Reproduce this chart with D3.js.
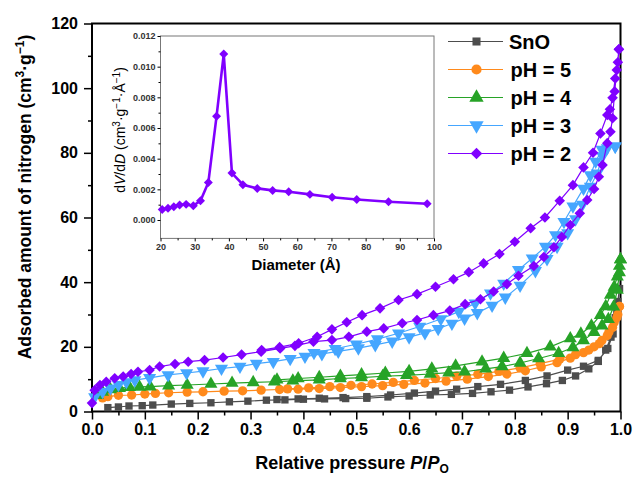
<!DOCTYPE html>
<html>
<head>
<meta charset="utf-8">
<script src="https://cdn.jsdelivr.net/npm/d3@7"></script>
<style>
  body { margin: 0; background: #fff; }
  text { font-family: "Liberation Sans", Arial, sans-serif; }
</style>
</head>
<body>
<svg id="chart" width="634" height="480"></svg>
<script>
// isotherms: [P/P0, volume] pairs, adsorption branch then desorption branch
const snoAds = [[0.03,1.2],[0.05,1.4],[0.07,1.7],[0.095,1.8],[0.115,2.0],[0.15,2.3],[0.185,2.5],[0.225,2.7],[0.26,3.0],[0.295,3.2],[0.33,3.5],[0.365,3.6],[0.40,3.8],[0.44,3.9],[0.48,4.0],[0.52,4.1],[0.56,4.5],[0.60,4.8],[0.64,5.1],[0.68,5.3],[0.72,5.6],[0.755,6.1],[0.79,6.6],[0.825,7.6],[0.86,8.6],[0.89,9.6],[0.915,11],[0.94,13.2],[0.958,15.5],[0.972,19],[0.982,23],[0.99,29],[0.995,34],[0.998,38]];
const snoDes = [[0.998,38],[0.993,31],[0.986,24],[0.976,19.5],[0.958,15.8],[0.93,14],[0.90,12.8],[0.861,11],[0.82,9.6],[0.773,8.4],[0.73,7.7],[0.69,6.9],[0.65,6.3],[0.61,5.7],[0.565,5.1],[0.52,4.6],[0.475,4.3],[0.43,4.1],[0.39,3.9],[0.35,3.7]];

const ph5Ads = [[0.02,4.2],[0.03,4.6],[0.05,5.0],[0.075,5.1],[0.1,5.4],[0.12,5.6],[0.145,5.8],[0.18,6.0],[0.21,6.1],[0.25,6.3],[0.285,6.4],[0.32,6.6],[0.355,6.8],[0.39,6.9],[0.43,7.1],[0.47,7.4],[0.51,7.7],[0.55,8.0],[0.59,8.4],[0.63,8.8],[0.67,9.4],[0.71,10.0],[0.75,10.8],[0.785,11.6],[0.82,12.6],[0.85,13.8],[0.88,15.1],[0.905,16.5],[0.93,18.2],[0.95,20],[0.965,22],[0.978,24.5],[0.988,27.5],[0.995,30],[0.998,32.5]];
const ph5Des = [[0.998,32.5],[0.993,29],[0.985,26],[0.975,23.5],[0.96,21],[0.94,19],[0.915,17.6],[0.885,16.2],[0.848,14.8],[0.81,13.5],[0.77,12.4],[0.73,11.5],[0.69,10.9],[0.65,10.2],[0.61,9.6],[0.57,9.0],[0.53,8.5],[0.49,8.1],[0.45,7.7],[0.41,7.3],[0.37,7.0]];

const ph4Ads = [[0.01,5.0],[0.02,6.0],[0.035,6.8],[0.052,7.2],[0.071,7.5],[0.09,7.6],[0.11,7.7],[0.145,8.0],[0.18,8.2],[0.225,8.5],[0.265,8.8],[0.305,9.0],[0.345,9.2],[0.38,9.5],[0.43,9.8],[0.47,10.2],[0.51,10.5],[0.55,10.9],[0.595,11.2],[0.64,11.6],[0.675,12.0],[0.705,12.3],[0.745,13.2],[0.776,13.9],[0.81,15.0],[0.845,16.4],[0.883,18.0],[0.91,19.8],[0.93,22],[0.95,24.5],[0.965,26.5],[0.977,28.5],[0.987,32.4],[0.994,37.6],[0.998,43],[1.0,47]];
const ph4Des = [[1.0,47],[0.998,45],[0.994,41.7],[0.988,38.5],[0.981,36],[0.972,32.5],[0.962,29.8],[0.945,26.5],[0.925,24],[0.905,22.6],[0.867,20],[0.823,18],[0.779,16.5],[0.738,15.4],[0.688,14.1],[0.643,13.2],[0.60,12.4],[0.555,11.9],[0.51,11.4],[0.47,11.0],[0.43,10.6],[0.39,10.2],[0.35,9.8]];

const ph3Ads = [[0.005,4.5],[0.02,6.1],[0.035,7.2],[0.05,8.3],[0.065,9.1],[0.081,9.7],[0.109,10.4],[0.144,11.3],[0.179,11.9],[0.21,12.5],[0.245,13.3],[0.28,13.9],[0.311,14.8],[0.343,15.4],[0.375,16.3],[0.403,17.0],[0.435,17.8],[0.466,18.6],[0.504,19.6],[0.536,20.6],[0.568,21.7],[0.6,23.0],[0.63,24.3],[0.655,25.6],[0.681,27.2],[0.705,28.8],[0.729,30.5],[0.757,32.8],[0.782,35.3],[0.81,39],[0.839,43.5],[0.861,47.2],[0.88,51],[0.9,55.2],[0.915,59.5],[0.928,64],[0.943,69.6],[0.956,73.7],[0.966,79],[0.975,81.5],[0.99,82]];
const ph3Des = [[0.99,82],[0.965,81],[0.953,77.3],[0.943,73.1],[0.93,69],[0.91,63.5],[0.893,58.7],[0.877,54.6],[0.858,51],[0.833,47.4],[0.807,43.8],[0.779,39.6],[0.754,36.6],[0.725,33.5],[0.694,30.9],[0.66,28.6],[0.62,26.3],[0.58,24.2],[0.54,22.4],[0.5,20.8],[0.46,19.4],[0.42,18.2]];

const ph2Ads = [[0.0,2.6],[0.005,6.6],[0.015,8.2],[0.027,9.2],[0.043,10.3],[0.059,10.8],[0.074,11.6],[0.087,12.3],[0.109,12.8],[0.128,13.9],[0.157,14.7],[0.182,15.4],[0.213,15.9],[0.248,16.7],[0.283,17.6],[0.32,18.5],[0.356,19.5],[0.384,20.3],[0.419,21.6],[0.454,22.1],[0.486,23.1],[0.52,24.7],[0.552,25.7],[0.587,27.3],[0.615,28.3],[0.646,29.8],[0.677,31.2],[0.706,33.2],[0.735,34.7],[0.76,37.1],[0.785,39.4],[0.807,42],[0.836,45],[0.855,47.8],[0.874,50.8],[0.889,54],[0.905,57.7],[0.923,61.3],[0.937,65.4],[0.95,68.8],[0.959,72.6],[0.966,76.2],[0.975,83],[0.981,86.5],[0.985,90.7],[0.989,99],[0.993,105.6],[0.997,112]];
const ph2Des = [[0.997,112],[0.995,108],[0.99,103],[0.985,97],[0.98,93.5],[0.975,91.7],[0.962,86],[0.948,80],[0.93,75.5],[0.91,70],[0.885,65.2],[0.857,60],[0.83,56.7],[0.8,52.5],[0.771,48.7],[0.741,45.8],[0.713,43.1],[0.684,40.9],[0.65,38.6],[0.615,36.3],[0.58,34.5],[0.545,31.9],[0.511,29.8],[0.482,27.6],[0.454,25.4],[0.426,23.1],[0.391,21.1],[0.355,19.9],[0.321,19]];

const seriesNames = ["SnO", "pH = 5", "pH = 4", "pH = 3", "pH = 2"];
const seriesColors = ["#4d4d4d", "#ff8a1c", "#27a327", "#45a6ff", "#8000ff"];
const seriesSymbols = ["square", "circle", "triangle", "triangleDown", "diamond"];
const seriesData = [[snoAds, snoDes], [ph5Ads, ph5Des], [ph4Ads, ph4Des], [ph3Ads, ph3Des], [ph2Ads, ph2Des]];

// inset: pore size distribution of pH = 2
const poreDiameter = [20.5, 22.2, 23.9, 25.6, 27.5, 29.6, 31.7, 34.0, 36.4, 38.5, 40.9, 44.1, 48.3, 52.8, 57.5, 63.7, 70.2, 77.4, 86.7, 98.0];
const poreVolume = [0.00069, 0.00076, 0.00087, 0.00098, 0.00102, 0.00093, 0.00126, 0.00245, 0.00677, 0.01082, 0.00306, 0.0023, 0.00206, 0.00193, 0.00184, 0.00167, 0.00148, 0.00134, 0.00119, 0.00106];

const xTicks = d3.range(0, 1.0001, 0.1);
const yTicks = d3.range(0, 121, 20);
const insetXTicks = d3.range(20, 101, 10);
const insetYTicks = d3.range(0, 0.0121, 0.002);

const svg = d3.select("#chart");
const x = d3.scaleLinear().domain([0, 1]).range([92, 620.5]);
const y = d3.scaleLinear().domain([0, 120]).range([411.5, 23.5]);

const symbolPath = (kind, size) => {
    if (kind === "circle") return d3.symbol(d3.symbolCircle, size)();
    if (kind === "square" || kind === "diamond") return d3.symbol(d3.symbolSquare, size)();
    return d3.symbol(d3.symbolTriangle, size)();
};
const symbolRotate = kind => kind === "diamond" ? 45 : (kind === "triangleDown" ? 180 : 0);
const symbolSize = {square: 54, circle: 68, triangle: 74, triangleDown: 74, diamond: 56};

// axes
const bold = sel => sel.selectAll("text").attr("font-size", 16).attr("font-weight", "bold").attr("fill", "#000");

const gx = svg.append("g").attr("transform", "translate(0,411.5)")
    .call(d3.axisBottom(x).tickValues(xTicks).tickFormat(d3.format(".1f")).tickSize(8).tickPadding(4));
gx.call(bold);
svg.append("g").attr("transform", "translate(0,411.5)")
    .call(d3.axisBottom(x).tickValues(d3.range(0.05, 1, 0.1)).tickFormat("").tickSize(4));

const gy = svg.append("g").attr("transform", "translate(92,0)")
    .call(d3.axisLeft(y).tickValues(yTicks).tickSize(8).tickPadding(6));
gy.call(bold);
svg.append("g").attr("transform", "translate(92,0)")
    .call(d3.axisLeft(y).tickValues(d3.range(10, 120, 20)).tickFormat("").tickSize(4));

svg.selectAll(".domain").remove();
svg.selectAll(".tick line").attr("stroke", "#000").attr("stroke-width", 1.5);

svg.append("rect")
    .attr("x", 92).attr("y", 23.5).attr("width", 528.5).attr("height", 388)
    .attr("fill", "none").attr("stroke", "#000").attr("stroke-width", 2);

// axis titles
const yTitle = svg.append("text")
    .attr("transform", "translate(31,197) rotate(-90)")
    .attr("text-anchor", "middle").attr("font-size", 17.5).attr("font-weight", "bold");
yTitle.append("tspan").text("Adsorbed amount of nitrogen (cm");
yTitle.append("tspan").attr("font-size", 12).attr("baseline-shift", "super").text("3");
yTitle.append("tspan").text("·g");
yTitle.append("tspan").attr("font-size", 12).attr("baseline-shift", "super").text("−1");
yTitle.append("tspan").text(")");

const xTitle = svg.append("text")
    .attr("x", 352).attr("y", 469)
    .attr("text-anchor", "middle").attr("font-size", 18).attr("font-weight", "bold");
xTitle.append("tspan").text("Relative pressure ");
xTitle.append("tspan").attr("font-style", "italic").text("P");
xTitle.append("tspan").text("/");
xTitle.append("tspan").attr("font-style", "italic").text("P");
xTitle.append("tspan").attr("font-size", 12).attr("dy", 4).text("O");

// isotherm loops
const line = d3.line().x(d => x(d[0])).y(d => y(d[1]));
seriesData.forEach((branches, i) => {
    const pts = branches[0].concat(branches[1]);
    const g = svg.append("g");
    g.append("path").datum(pts)
        .attr("d", line)
        .attr("fill", "none")
        .attr("stroke", seriesColors[i])
        .attr("stroke-width", 1.2);
    g.selectAll("path.mark").data(pts).enter().append("path")
        .attr("class", "mark")
        .attr("d", symbolPath(seriesSymbols[i], symbolSize[seriesSymbols[i]]))
        .attr("transform", d => `translate(${x(d[0])},${y(d[1])}) rotate(${symbolRotate(seriesSymbols[i])})`)
        .attr("fill", seriesColors[i]);
});

// legend
const legend = svg.append("g");
seriesNames.forEach((name, i) => {
    const ly = 41.5 + i * 28;
    legend.append("line")
        .attr("x1", 448).attr("x2", 503).attr("y1", ly).attr("y2", ly)
        .attr("stroke", seriesColors[i]).attr("stroke-width", 1.2);
    legend.append("path")
        .attr("d", symbolPath(seriesSymbols[i], symbolSize[seriesSymbols[i]] * 1.2))
        .attr("transform", `translate(476.5,${ly}) rotate(${symbolRotate(seriesSymbols[i])})`)
        .attr("fill", seriesColors[i]);
    legend.append("text")
        .attr("x", i === 0 ? 509 : 510.5).attr("y", ly).attr("dy", "0.36em")
        .attr("font-size", 20).attr("font-weight", "bold")
        .text(name);
});

// inset
const ix = d3.scaleLinear().domain([20, 100]).range([160.5, 434]);
const iy = d3.scaleLinear().domain([-0.0012, 0.012]).range([238.4, 36]);

svg.append("rect")
    .attr("x", 160.5).attr("y", 36).attr("width", 273.5).attr("height", 202.4)
    .attr("fill", "#fff").attr("stroke", "#777").attr("stroke-width", 1);

const small = sel => sel.selectAll("text").attr("font-size", 9).attr("font-weight", "bold").attr("fill", "#333");

const igx = svg.append("g").attr("transform", "translate(0,238.4)")
    .call(d3.axisBottom(ix).tickValues(insetXTicks).tickSize(3).tickPadding(2));
igx.call(small);
svg.append("g").attr("transform", "translate(0,238.4)")
    .call(d3.axisBottom(ix).tickValues(d3.range(25, 100, 10)).tickFormat("").tickSize(2));

const igy = svg.append("g").attr("transform", "translate(160.5,0)")
    .call(d3.axisLeft(iy).tickValues(insetYTicks).tickFormat(d3.format(".3f")).tickSize(3).tickPadding(2));
igy.call(small);
svg.append("g").attr("transform", "translate(160.5,0)")
    .call(d3.axisLeft(iy).tickValues(d3.range(0.001, 0.012, 0.002)).tickFormat("").tickSize(2));

svg.selectAll(".domain").remove();

const inset = poreDiameter.map((d, i) => [d, poreVolume[i]]);
svg.append("path").datum(inset)
    .attr("d", d3.line().x(d => ix(d[0])).y(d => iy(d[1])))
    .attr("fill", "none").attr("stroke", "#8000ff").attr("stroke-width", 2.6)
    .attr("stroke-linejoin", "round");
svg.selectAll("path.imark").data(inset).enter().append("path")
    .attr("class", "imark")
    .attr("d", d3.symbol(d3.symbolSquare, 40)())
    .attr("transform", d => `translate(${ix(d[0])},${iy(d[1])}) rotate(45)`)
    .attr("fill", "#8000ff");

svg.append("text")
    .attr("x", 296).attr("y", 270)
    .attr("text-anchor", "middle").attr("font-size", 15).attr("font-weight", "bold")
    .text("Diameter (Å)");

const iyTitle = svg.append("text")
    .attr("transform", "translate(125,130) rotate(-90)")
    .attr("text-anchor", "middle").attr("font-size", 14);
iyTitle.append("tspan").text("d");
iyTitle.append("tspan").attr("font-style", "italic").text("V");
iyTitle.append("tspan").text("/d");
iyTitle.append("tspan").attr("font-style", "italic").text("D");
iyTitle.append("tspan").text(" (cm");
iyTitle.append("tspan").attr("font-size", 10).attr("baseline-shift", "super").text("3");
iyTitle.append("tspan").text("·g");
iyTitle.append("tspan").attr("font-size", 10).attr("baseline-shift", "super").text("−1");
iyTitle.append("tspan").text("·Å");
iyTitle.append("tspan").attr("font-size", 10).attr("baseline-shift", "super").text("−1");
iyTitle.append("tspan").text(")");
</script>
</body>
</html>
